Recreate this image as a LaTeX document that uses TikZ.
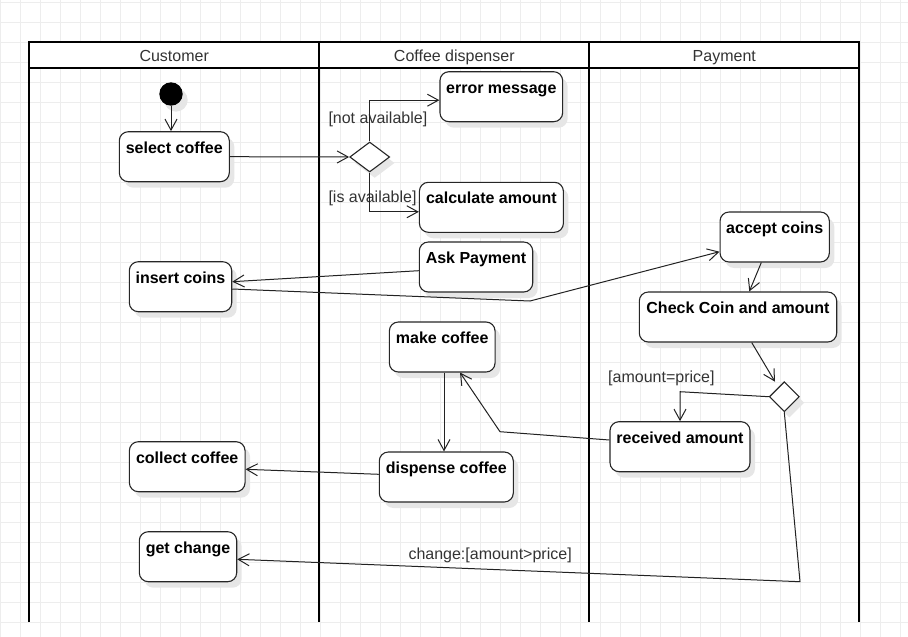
\documentclass[tikz,border=0pt]{standalone}
\usepackage{fontspec}
\setmainfont{Liberation Sans}
\usetikzlibrary{arrows.meta,shapes.geometric,shadows}
\definecolor{gridc}{HTML}{EDEDED}
\definecolor{labelc}{HTML}{333333}
\definecolor{edgec}{HTML}{222222}
\definecolor{shadowc}{HTML}{E6E6E6}
\begin{document}
\begin{tikzpicture}[x=1pt,y=-1pt,
  font=\fontsize{16pt}{19pt}\selectfont,
  lane/.style={draw=black, line width=2pt, line join=miter},
  hdr/.style={anchor=base, text=labelc, inner sep=0pt},
  guard/.style={anchor=base west, text=labelc, inner sep=0pt},
  softshadow/.style={drop shadow={shadow xshift=5pt, shadow yshift=-6pt, fill=shadowc, opacity=1}},
  act/.style={draw=black!85, line width=1.1pt, fill=white, rounded corners=9pt,
    minimum height=50pt, text height=21.6pt, text depth=28.4pt,
    inner xsep=0pt, inner ysep=0pt, font=\fontsize{16pt}{19pt}\selectfont\bfseries, softshadow},
  decision/.style={diamond, draw=black!85, line width=1.1pt, fill=white, inner sep=0pt, softshadow},
  startnode/.style={circle, fill=black, minimum size=23.4pt, inner sep=0pt, softshadow},
  flow/.style={draw=edgec, line width=1pt, -{Straight Barb[length=11pt,width=12pt,line width=1pt]}},
  plain/.style={draw=edgec, line width=1pt}
]
\useasboundingbox (0,0) rectangle (908,637);

% background grid
\foreach \gx in {0,20,...,900} \draw[gridc, line width=0.7pt] (\gx,0) -- (\gx,637);
\foreach \gy in {2.7,22.7,...,622.7} \draw[gridc, line width=0.7pt] (0,\gy) -- (908,\gy);

% swimlanes
\fill[white] (29,41.5) rectangle (859.3,68);
\draw[lane] (29,622) -- (29,41.5) -- (859.3,41.5) -- (859.3,622);
\draw[lane] (29,68) -- (859.3,68);
\draw[lane] (319.3,41.5) -- (319.3,622);
\draw[lane] (589.3,41.5) -- (589.3,622);
\node[hdr] (h-cust) at (174.2,61) {Customer};
\node[hdr] (h-disp) at (454.3,61) {Coffee dispenser};
\node[hdr] (h-pay)  at (724.3,61) {Payment};

% activities
\node[startnode] (start) at (171,94) {};
\node[act, minimum width=110pt]   (sel)  at (174.3,156.7) {select coffee};
\node[act, minimum width=122.7pt] (err)  at (501.3,96.7)  {error message};
\node[act, minimum width=144pt]   (calc) at (491.4,207.3) {calculate amount};
\node[act, minimum width=113.4pt] (ask)  at (476,267)     {Ask Payment};
\node[act, minimum width=102.4pt] (ins)  at (180.5,286.7) {insert coins};
\node[act, minimum width=105.7pt] (make) at (442.2,347)   {make coffee};
\node[act, minimum width=109.3pt] (acc)  at (774.7,237)   {accept coins};
\node[act, minimum width=197.4pt] (chk)  at (738,317)     {Check Coin and amount};
\node[act, minimum width=140pt]   (rec)  at (680,446.7)   {received amount};
\node[act, minimum width=115.7pt] (col)  at (187.2,466.7) {collect coffee};
\node[act, minimum width=134pt]   (disp) at (446.3,477)   {dispense coffee};
\node[act, minimum width=97.4pt]  (chg)  at (188,556.7)   {get change};
\node[decision, minimum width=40pt, minimum height=30pt] (d1) at (369.7,157) {};
\node[decision, minimum width=30pt, minimum height=30pt] (d2) at (784.3,396.7) {};

% bend points
\coordinate (b-pay) at (530,301);
\coordinate (b-eq)  at (680,391.7);
\coordinate (b-rec) at (500,431.7);
\coordinate (b-chg) at (800,581.7);

% guards
\node[guard] (g-na)  at (328.3,123)   {[not available]};
\node[guard] (g-av)  at (328.3,202.7) {[is available]};
\node[guard] (g-eq)  at (608,382.7)   {[amount=price]};
\node[guard] (g-chg) at (408.3,559.3) {change:[amount>price]};

% control flow
\draw[flow] (start.south) -- (start.south |- sel.north);
\draw[flow] (sel.east) -- (d1.west);
\draw[flow] (d1.north) |- ([yshift=-3.5pt]err.west);
\draw[flow] (d1.south) |- ([yshift=-4.5pt]calc.west);
\draw[flow] ([yshift=-3.7pt]ask.west) -- ([yshift=5pt]ins.east);
\draw[flow] ([yshift=-2.3pt]ins.east) -- (b-pay) -- ([yshift=-14.7pt]acc.west);
\draw[flow] ([xshift=-13.4pt]acc.south) -- ([xshift=11.3pt]chk.north);
\draw[flow] ([xshift=13.7pt]chk.south) -- ([xshift=-9.3pt,yshift=15pt]d2.center);
\draw[flow] (d2.west) -- (b-eq) -- (rec.north);
\draw[flow] ([yshift=6.7pt]rec.west) -- (b-rec) -- ([xshift=17.8pt]make.south);
\draw[flow] ([xshift=1.8pt]make.south) -- ([xshift=-2.3pt]disp.north);
\draw[flow] ([yshift=2.7pt]disp.west) -- ([yshift=-2.6pt]col.east);
\draw[flow] (d2.south) -- (b-chg) -- ([yshift=-2.6pt]chg.east);
\end{tikzpicture}
\end{document}
